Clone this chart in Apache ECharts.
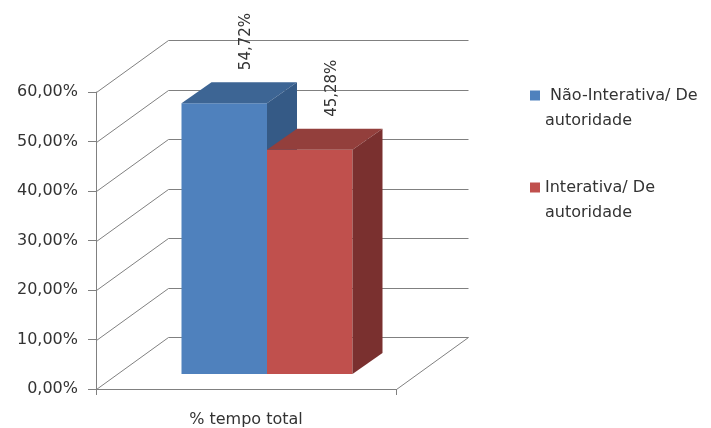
<!DOCTYPE html>
<html>
<head>
<meta charset="utf-8">
<script src="https://cdn.jsdelivr.net/npm/echarts@6/dist/echarts.min.js"></script>
<style>
  html, body { margin: 0; padding: 0; background: #fff; }
  #container { width: 711px; height: 428px; }
</style>
</head>
<body>
<div id="container"></div>
<script>
// chart values
var categories = ['% tempo total']
var seriesNames = [' Não-Interativa/ De\nautoridade', 'Interativa/ De\nautoridade']
var blueValues = [0.5472]
var redValues = [0.4528]
var yTicks = [0, 0.1, 0.2, 0.3, 0.4, 0.5, 0.6]

var TEXT = '#333333'
var LINE = '#808080'
var FONT = 'DejaVu Sans'

// perspective offsets (pixels)
var WALL_DX = 72, WALL_DY = -52       // back wall
var FRONT_DX = 21, FRONT_DY = -15     // front face of bars
var DEPTH_DX = 30, DEPTH_DY = -21     // bar depth

var faces = [
    { front: '#4F81BD', top: '#3D6594', side: '#355A86' },
    { front: '#C0504D', top: '#933F3C', side: '#7A302F' }
]

function fmt(v) {
    return (v * 100).toFixed(2).replace('.', ',') + '%'
}

function renderFrame(params, api) {
    var p = api.coord([0, api.value(1)])
    var band = api.size([1, 0])[0]
    var left = Math.round(p[0] - band / 2) + 0.5
    var right = Math.round(p[0] + band / 2) + 0.5
    var y = Math.round(p[1]) + 0.5
    var style = { stroke: LINE, lineWidth: 1, fill: null }
    var children = [
        { type: 'line', shape: { x1: left, y1: y, x2: left + WALL_DX, y2: y + WALL_DY }, style: style },
        { type: 'line', shape: { x1: left + WALL_DX, y1: y + WALL_DY, x2: right + WALL_DX, y2: y + WALL_DY }, style: style }
    ]
    if (params.dataIndex === 0) {
        children.push({ type: 'line', shape: { x1: right, y1: y, x2: right + WALL_DX, y2: y + WALL_DY }, style: style })
    }
    return { type: 'group', children: children }
}

function makeBarRenderer(k) {
    return function (params, api) {
        var top = api.coord([api.value(0), api.value(1)])
        var base = api.coord([api.value(0), 0])
        var band = api.size([1, 0])[0]
        var bw = band * 0.285
        var x0 = top[0] - bw + k * bw + FRONT_DX
        var x1 = x0 + bw
        var yT = top[1] + FRONT_DY
        var yB = base[1] + FRONT_DY
        var f = faces[k]
        return {
            type: 'group',
            children: [
                { type: 'polygon', shape: { points: [[x0, yT], [x1, yT], [x1, yB], [x0, yB]] }, style: { fill: f.front } },
                { type: 'polygon', shape: { points: [[x0, yT], [x0 + DEPTH_DX, yT + DEPTH_DY], [x1 + DEPTH_DX, yT + DEPTH_DY], [x1, yT]] }, style: { fill: f.top } },
                { type: 'polygon', shape: { points: [[x1, yT], [x1 + DEPTH_DX, yT + DEPTH_DY], [x1 + DEPTH_DX, yB + DEPTH_DY], [x1, yB]] }, style: { fill: f.side } },
                {
                    type: 'text',
                    x: (x0 + x1) / 2 + 22,
                    y: yT + DEPTH_DY - 12,
                    rotation: Math.PI / 2,
                    style: {
                        text: fmt(api.value(1)),
                        align: 'left',
                        verticalAlign: 'middle',
                        fill: TEXT,
                        font: '15px "' + FONT + '"'
                    }
                }
            ]
        }
    }
}

var myChart = echarts.init(document.getElementById('container'))
myChart.setOption({
    animation: false,
    textStyle: { fontFamily: FONT },
    grid: { left: 96, top: 92, width: 300, height: 297, containLabel: false },
    legend: {
        orient: 'vertical',
        left: 525,
        top: 53,
        padding: 5,
        itemGap: 17,
        itemWidth: 10,
        itemHeight: 10,
        icon: 'rect',
        data: seriesNames,
        // blank first line keeps the square level with the first text line
        formatter: function (name) { return '\n' + name },
        textStyle: {
            color: TEXT,
            fontSize: 16,
            fontFamily: FONT,
            lineHeight: 25
        }
    },
    xAxis: {
        type: 'category',
        data: categories,
        axisLine: { lineStyle: { color: LINE } },
        axisTick: { show: true, length: 6, lineStyle: { color: LINE } },
        axisLabel: { color: TEXT, fontSize: 16, margin: 23 },
        splitLine: { show: false }
    },
    yAxis: {
        type: 'value',
        min: 0,
        max: 0.6,
        interval: 0.1,
        axisLine: { show: true, lineStyle: { color: LINE } },
        axisTick: { show: true, length: 8, lineStyle: { color: LINE } },
        axisLabel: { color: TEXT, fontSize: 16, margin: 18, formatter: fmt },
        splitLine: { show: false }
    },
    series: [
        {
            name: 'frame',
            type: 'custom',
            silent: true,
            z: 1,
            renderItem: renderFrame,
            data: yTicks.map(function (v) { return [0, v] })
        },
        {
            name: seriesNames[0],
            type: 'custom',
            z: 2,
            itemStyle: { color: faces[0].front },
            renderItem: makeBarRenderer(0),
            data: blueValues.map(function (v, i) { return [i, v] })
        },
        {
            name: seriesNames[1],
            type: 'custom',
            z: 3,
            itemStyle: { color: faces[1].front },
            renderItem: makeBarRenderer(1),
            data: redValues.map(function (v, i) { return [i, v] })
        }
    ]
})
</script>
</body>
</html>
